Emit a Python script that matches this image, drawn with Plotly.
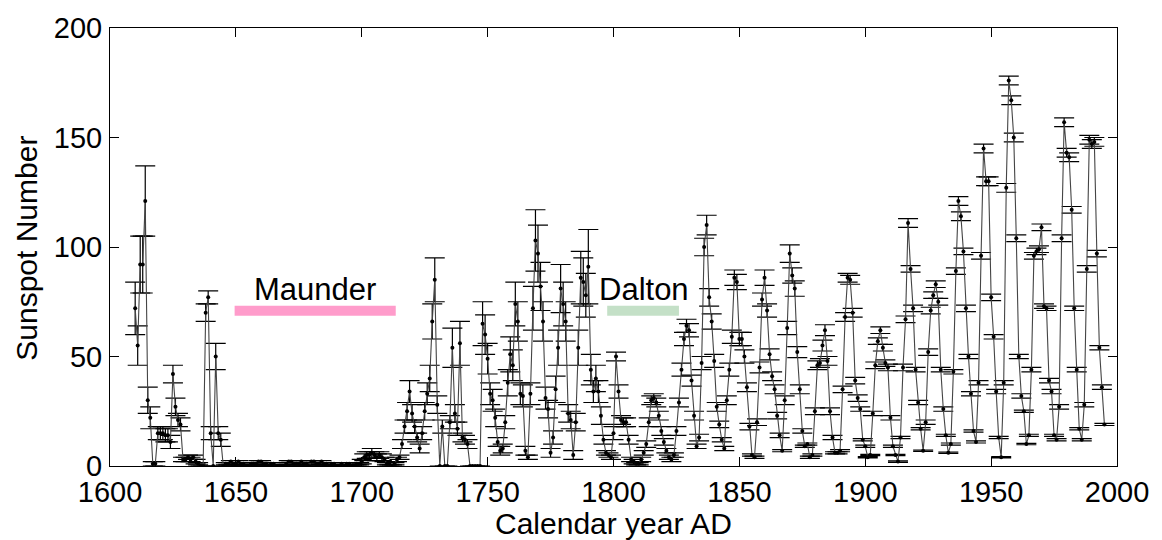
import plotly.graph_objects as go

# Annual group sunspot number with one-sigma uncertainty, 1610-1995
start_year = 1610

ssn = [
    72, 55, 92, 92, 121, 30, 22, 1, 1, 15,          # 1610s
    15, 15, 14, 14, 11, 42, 27, 21, 19, 3,          # 1620s
    3, 4, 3, 4, 2, 1, 0, 0, 70, 77,                 # 1630s
    15, 0, 50, 15, 12, 0, 1, 1, 2, 1,               # 1640s
    1, 2, 1, 1, 0, 0, 1, 1, 1, 2,                   # 1650s
    2, 1, 1, 0, 1, 1, 0, 0, 0, 0,                   # 1660s
    1, 2, 2, 1, 1, 1, 2, 1, 1, 0,                   # 1670s
    2, 2, 1, 1, 2, 1, 1, 0, 1, 1,                   # 1680s
    0, 0, 1, 0, 1, 1, 0, 0, 1, 1,                   # 1690s
    2, 4, 5, 5, 6, 5, 4, 5, 4, 3,                   # 1700s
    1, 1, 0, 1, 3, 4, 10, 18, 25, 34,               # 1710s
    24, 18, 13, 8, 15, 25, 33, 40, 66, 85,          # 1720s
    28, 0, 18, 0, 0, 20, 54, 24, 17, 56,            # 1730s
    13, 12, 10, 0, 0, 0, 0, 0, 65, 60,              # 1740s
    49, 33, 30, 22, 11, 7, 8, 20, 38, 51,           # 1750s
    46, 74, 66, 33, 32, 7, 4, 33, 72, 103,          # 1760s
    97, 82, 66, 31, 26, 6, 13, 35, 54, 81,          # 1770s
    74, 66, 24, 21, 5, 20, 54, 86, 84, 78,          # 1780s
    91, 44, 34, 40, 34, 23, 12, 6, 5, 4,            # 1790s
    15, 50, 34, 21, 20, 20, 12, 3, 2, 1,            # 1800s
    1, 3, 6, 10, 20, 30, 31, 29, 23, 16,            # 1810s
    11, 7, 4, 3, 5, 16, 29, 44, 58, 64,             # 1820s
    62, 39, 23, 9, 13, 47, 100, 110, 77, 66,        # 1830s
    48, 27, 19, 12, 8, 30, 44, 59, 86, 84,          # 1840s
    58, 58, 50, 36, 18, 5, 4, 20, 45, 76,           # 1850s
    86, 71, 51, 41, 35, 23, 14, 7, 30, 63,          # 1860s
    97, 87, 81, 52, 35, 16, 9, 10, 4, 5,            # 1870s
    25, 46, 47, 55, 62, 48, 25, 13, 6, 6,           # 1880s
    7, 35, 68, 86, 85, 70, 39, 31, 26, 12,          # 1890s
    9, 4, 5, 24, 46, 57, 62, 54, 47, 45,            # 1900s
    22, 9, 5, 2, 13, 45, 67, 111, 90, 72,           # 1910s
    44, 29, 17, 7, 20, 52, 71, 78, 83, 75,          # 1920s
    44, 26, 14, 6, 10, 43, 89, 121, 114, 98,        # 1930s
    72, 50, 33, 16, 11, 38, 96, 145, 130, 130,      # 1940s
    77, 59, 34, 13, 4, 38, 127, 176, 167, 150,      # 1950s
    104, 50, 32, 25, 10, 14, 44, 96, 98, 99,        # 1960s
    109, 73, 72, 39, 34, 14, 12, 27, 104, 157,      # 1970s
    143, 141, 117, 72, 44, 17, 12, 28, 90, 149,     # 1980s
    147, 148, 97, 54, 36, 19,                       # 1990s
]

ssn_err = [
    12, 9, 13, 13, 16, 6, 5, 1, 1, 3,
    3, 3, 3, 3, 3, 4, 4, 3, 3, 1,
    1, 1, 1, 1, 1, 0.5, 0, 0, 4, 3,
    3, 0, 6, 3, 3, 0, 0.5, 0.5, 0.5, 0.5,
    0.5, 0.5, 0.5, 0.5, 0.5, 0.5, 0.5, 0.5, 0.5, 0.5,
    0.5, 0.5, 0.5, 0.5, 0.5, 0.5, 0.5, 0.5, 0.5, 0.5,
    0.5, 0.5, 0.5, 0.5, 0.5, 0.5, 0.5, 0.5, 0.5, 0.5,
    0.5, 0.5, 0.5, 0.5, 0.5, 0.5, 0.5, 0.5, 0.5, 0.5,
    0.5, 0.5, 0.5, 0.5, 0.5, 0.5, 0.5, 0.5, 0.5, 0.5,
    1, 1.5, 1.5, 1.5, 2, 1.5, 1.5, 1.5, 1.5, 1,
    0.5, 0.5, 0.5, 0.5, 1, 1, 2, 3, 4, 5,
    4, 3, 2, 2, 3, 4, 5, 6, 8, 10,
    4, 0, 3, 0, 0, 3, 9, 4, 3, 10,
    2, 2, 2, 0, 0, 0, 0, 0, 10, 9,
    7, 5, 5, 4, 2, 2, 2, 3, 6, 8,
    7, 10, 9, 5, 5, 2, 1, 5, 10, 14,
    13, 11, 9, 5, 4, 2, 3, 6, 8, 11,
    10, 9, 4, 4, 2, 4, 8, 12, 11, 10,
    17, 7, 5, 6, 5, 4, 2, 1, 1, 1,
    3, 2, 3, 2, 2, 2, 2, 1, 1, 0.5,
    0.5, 1, 1, 1.5, 2, 2, 2, 2, 2, 2,
    1.5, 1, 1, 1, 1, 2, 2, 3, 3, 3,
    3, 2.5, 2, 1, 1.5, 3, 4, 4.5, 4, 3.5,
    3, 2, 1.5, 1, 1, 2, 3, 3, 3.5, 3.5,
    3, 3, 3, 2, 1.5, 0.5, 0.5, 1.5, 2.5, 3,
    3.5, 3, 2.5, 2, 2, 1.5, 1, 0.5, 2, 3,
    4, 3.5, 3.5, 2.5, 2, 1, 0.5, 0.5, 0.5, 0.5,
    1.5, 2, 2, 2.5, 2.5, 2, 1.5, 1, 0.5, 0.5,
    0.5, 1.5, 2, 2, 2, 2, 1.5, 1.5, 1, 0.5,
    0.5, 0.3, 0.3, 1, 1.5, 1.5, 1.5, 1.5, 1.5, 1.5,
    1, 0.5, 0.3, 0.3, 0.5, 1.5, 1.5, 2, 1.5, 1.5,
    1, 1, 0.5, 0.3, 1, 1.5, 1.5, 1.5, 1.5, 1.5,
    1, 1, 0.5, 0.3, 0.5, 1, 1.5, 2, 2, 1.5,
    1.5, 1, 1, 0.5, 0.5, 1, 1.5, 2, 2, 2,
    1.5, 1, 1, 0.5, 0.3, 1, 2, 2, 2, 2,
    1.5, 1, 1, 0.5, 0.3, 0.5, 1, 1.5, 1.5, 1.5,
    1.5, 1, 1, 1, 1, 0.5, 0.5, 1, 1.5, 2,
    2, 2, 1.5, 1, 1, 0.5, 0.5, 1, 1.5, 2,
    2, 2, 1.5, 1, 1, 0.5,
]

years = list(range(start_year, start_year + len(ssn)))

# Named grand minima: (label, first year, last year, bar colour)
minima = [
    ("Maunder", 1649.5, 1713.5, "#FF9CCB"),
    ("Dalton", 1797.5, 1826.0, "#C4E0C7"),
]

x_ticks = [1600, 1650, 1700, 1750, 1800, 1850, 1900, 1950, 2000]
y_ticks = [0, 50, 100, 150, 200]

FONT = "Liberation Sans, Arial, sans-serif"

fig = go.Figure()

fig.add_trace(go.Scatter(
    x=years,
    y=ssn,
    mode="lines+markers",
    line=dict(color="#444444", width=1.1),
    marker=dict(color="black", size=4),
    error_y=dict(type="data", array=ssn_err, visible=True,
                 color="black", thickness=1.2, width=10),
    showlegend=False,
    hoverinfo="x+y",
))

for name, x0, x1, colour in minima:
    fig.add_shape(type="rect", xref="x", yref="y",
                  x0=x0, x1=x1, y0=68.6, y1=73.2,
                  fillcolor=colour, line=dict(width=0), layer="below")

fig.add_annotation(x=(minima[0][1] + minima[0][2]) / 2, y=80.5, text="Maunder",
                   showarrow=False, xanchor="center", yanchor="middle",
                   font=dict(family=FONT, size=31, color="black"))
fig.add_annotation(x=1793.6, y=80.5, text="Dalton",
                   showarrow=False, xanchor="left", yanchor="middle",
                   font=dict(family=FONT, size=31, color="black"))

# Axis titles, placed in paper coordinates
fig.add_annotation(xref="paper", yref="paper", x=0.5, y=-0.131,
                   text="Calendar year AD", showarrow=False,
                   xanchor="center", yanchor="middle",
                   font=dict(family=FONT, size=30, color="black"))
fig.add_annotation(xref="paper", yref="paper", x=-0.083, y=0.497,
                   text="Sunspot Number", showarrow=False, textangle=-90,
                   xanchor="center", yanchor="middle",
                   font=dict(family=FONT, size=30, color="black"))

axis_font = dict(family=FONT, size=29, color="black")

common_axis = dict(
    ticks="inside", ticklen=9, tickcolor="black", tickwidth=1,
    showline=True, linecolor="black", linewidth=1, mirror="ticks",
    showgrid=False, zeroline=False, tickfont=axis_font, automargin=False,
)

fig.update_layout(
    width=1162, height=540,
    margin=dict(l=110, r=45, t=28, b=74),
    paper_bgcolor="white",
    plot_bgcolor="white",
    font=axis_font,
    xaxis=dict(range=[1600, 2000], tickvals=x_ticks, **common_axis),
    yaxis=dict(range=[0, 200], tickvals=y_ticks, ticklabelstandoff=1, **common_axis),
)

fig.write_html("out.html")
